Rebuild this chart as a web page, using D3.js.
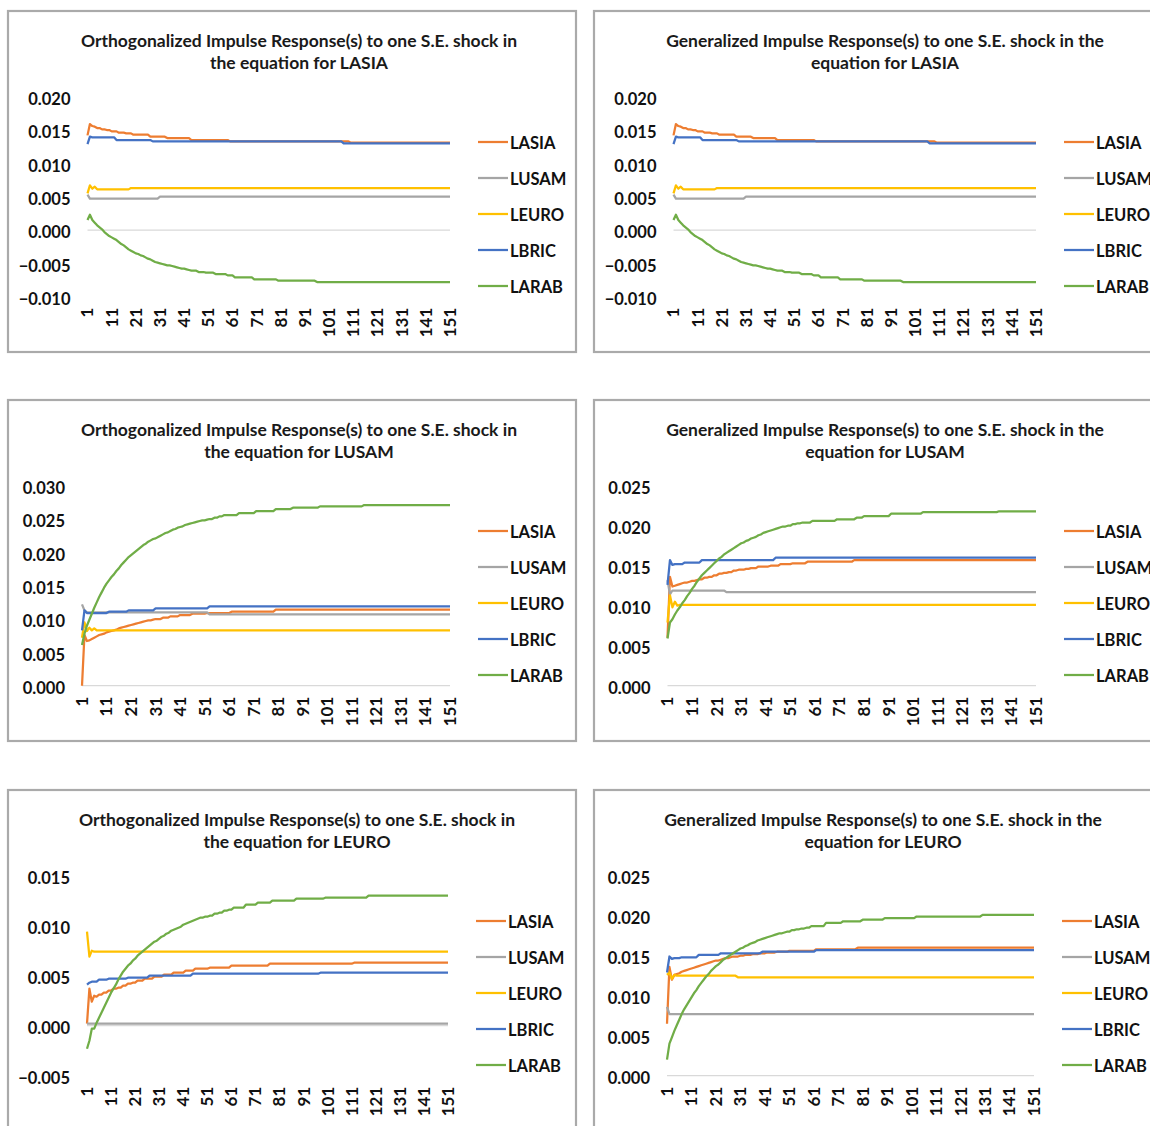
<!DOCTYPE html>
<html>
<head>
<meta charset="utf-8">
<script src="https://cdn.jsdelivr.net/npm/d3@7"></script>
<style>
  body { margin: 0; background: #fff; }
  svg { display: block; font-family: Lato, "Open Sans", sans-serif; }
</style>
</head>
<body>
<div id="chart"></div>
<script>
const periods = d3.range(1, 152);
const seriesNames = ["LASIA", "LUSAM", "LEURO", "LBRIC", "LARAB"];
const seriesColors = ["#ED7D31", "#A5A5A5", "#FFC000", "#4472C4", "#70AD47"];
const xTickLabels = [1, 11, 21, 31, 41, 51, 61, 71, 81, 91, 101, 111, 121, 131, 141, 151];

// y tick labels per panel
const yTicksAsia = [-0.010, -0.005, 0.000, 0.005, 0.010, 0.015, 0.020];
const yTicksUsamOrth = [0.000, 0.005, 0.010, 0.015, 0.020, 0.025, 0.030];
const yTicksUsamGen = [0.000, 0.005, 0.010, 0.015, 0.020, 0.025];
const yTicksEuroOrth = [-0.005, 0.000, 0.005, 0.010, 0.015];
const yTicksEuroGen = [0.000, 0.005, 0.010, 0.015, 0.020, 0.025];

// readings as [period, value]; a value holds until the next reading (flat steps in the picture)
// shock in LASIA (orthogonalized and generalized responses are the same)
const asia_LASIA = [[1,.0142],[2,.0159],[3,.0156],[4,.0155],[5,.0153],[7,.0151],[9,.0150],[11,.0148],[14,.0146],[17,.0145],[20,.0143],[27,.0140],[34,.0138],[44,.0135],[60,.0133],[110,.0131]];
const asia_LUSAM = [[1,.0053],[2,.0047],[31,.0050]];
const asia_LEURO = [[1,.0055],[2,.0067],[3,.0062],[4,.0065],[5,.0061],[19,.0063]];
const asia_LBRIC = [[1,.0129],[2,.0140],[3,.0139],[13,.0135],[28,.0133],[107,.0130]];
const asia_LARAB = [[1,.0015],[2,.0023],[3,.0015],[4,.0011],[5,.0007],[6,.0004],[7,.0001],[8,-.0003],[9,-.0006],[10,-.0009],
  [11,-.0011],[12,-.0013],[13,-.0015],[14,-.0018],[15,-.0021],[16,-.0023],[17,-.0026],[18,-.0029],[19,-.0031],[20,-.0033],
  [21,-.0035],[22,-.0036],[23,-.0038],[24,-.0039],[25,-.0041],[26,-.0043],[27,-.0044],[28,-.0046],[29,-.0048],[30,-.0049],
  [31,-.0050],[32,-.0051],[33,-.0052],[34,-.0053],[36,-.0054],[37,-.0055],[38,-.0056],[39,-.0057],[40,-.0058],[42,-.0059],
  [43,-.0060],[44,-.0061],[47,-.0063],[50,-.0064],[54,-.0066],[59,-.0068],[62,-.0071],[70,-.0074],[80,-.0076],[96,-.0078]];

// orthogonalized, shock in LUSAM
const usamO_LASIA = [[1,.0000],[2,.0076],[3,.0067],[4,.0068],[5,.0070],[6,.0072],[7,.0074],[8,.0076],[9,.0077],[10,.0078],
  [11,.0080],[12,.0081],[13,.0082],[14,.0083],[15,.0084],[16,.0086],[17,.0087],[18,.0088],[19,.0089],[20,.0090],
  [21,.0091],[22,.0092],[23,.0093],[24,.0094],[25,.0095],[26,.0096],[27,.0097],[28,.0098],[30,.0099],[31,.0100],
  [34,.0102],[37,.0104],[41,.0106],[46,.0108],[52,.0109],[62,.0111],[80,.0114]];
const usamO_LUSAM = [[1,.0122],[2,.0113],[3,.0110],[53,.0107]];
const usamO_LEURO = [[1,.0072],[2,.0095],[3,.0082],[4,.0087],[5,.0083],[6,.0086],[7,.0083]];
const usamO_LBRIC = [[1,.0083],[2,.0113],[3,.0109],[12,.0111],[20,.0113],[31,.0116],[53,.0119]];
const usamO_LARAB = [[1,.0061],[2,.0078],[3,.0090],[4,.0099],[5,.0108],[6,.0117],[7,.0125],[8,.0133],[9,.0140],[10,.0147],
  [11,.0153],[12,.0158],[13,.0163],[14,.0167],[15,.0172],[16,.0176],[17,.0181],[18,.0185],[19,.0189],[20,.0193],
  [21,.0196],[22,.0199],[23,.0202],[24,.0205],[25,.0208],[26,.0211],[27,.0213],[28,.0216],[29,.0218],[30,.0220],
  [31,.0221],[32,.0223],[33,.0225],[34,.0227],[35,.0229],[36,.0230],[37,.0232],[38,.0234],[39,.0235],[40,.0237],
  [41,.0238],[42,.0239],[43,.0241],[44,.0242],[45,.0243],[46,.0244],[47,.0245],[48,.0246],[49,.0247],[50,.0248],
  [52,.0249],[53,.0250],[55,.0252],[57,.0254],[59,.0256],[65,.0259],[72,.0262],[80,.0265],[87,.0267],[98,.0269],[116,.0271]];

// generalized, shock in LUSAM
const usamG_LASIA = [[1,.0060],[2,.0136],[3,.0124],[4,.0125],[5,.0126],[6,.0127],[7,.0128],[8,.0129],[10,.0130],[11,.0131],
  [13,.0132],[14,.0133],[16,.0135],[18,.0136],[20,.0138],[22,.0140],[24,.0141],[26,.0142],[28,.0144],[30,.0145],
  [33,.0146],[35,.0147],[38,.0149],[43,.0150],[47,.0152],[52,.0153],[58,.0155],[77,.0157]];
const usamG_LUSAM = [[1,.0132],[2,.0114],[3,.0119],[25,.0117]];
const usamG_LEURO = [[1,.0079],[2,.0113],[3,.0098],[4,.0105],[5,.0100],[6,.0101]];
const usamG_LBRIC = [[1,.0126],[2,.0157],[3,.0151],[4,.0152],[8,.0154],[15,.0157],[45,.0160]];
const usamG_LARAB = [[1,.0059],[2,.0079],[3,.0083],[4,.0089],[5,.0094],[6,.0098],[7,.0103],[8,.0107],[9,.0112],[10,.0116],
  [11,.0121],[12,.0125],[13,.0130],[14,.0134],[15,.0138],[16,.0141],[17,.0144],[18,.0147],[19,.0150],[20,.0153],
  [21,.0156],[22,.0159],[23,.0161],[24,.0164],[25,.0166],[26,.0168],[27,.0170],[28,.0172],[29,.0174],[30,.0176],
  [31,.0178],[32,.0179],[33,.0181],[34,.0182],[35,.0184],[36,.0185],[37,.0186],[38,.0188],[39,.0189],[40,.0191],
  [41,.0192],[42,.0193],[43,.0194],[44,.0195],[45,.0196],[46,.0197],[47,.0198],[48,.0199],[50,.0200],[52,.0202],
  [54,.0203],[56,.0204],[60,.0206],[70,.0208],[78,.0210],[81,.0212],[92,.0215],[105,.0217],[136,.0218]];

// orthogonalized, shock in LEURO
const euroO_LASIA = [[1,.0002],[2,.0037],[3,.0024],[4,.0030],[5,.0029],[6,.0031],[8,.0033],[10,.0035],[12,.0037],[14,.0038],
  [16,.0040],[18,.0042],[20,.0043],[22,.0045],[25,.0047],[29,.0049],[33,.0051],[37,.0053],[42,.0055],[46,.0057],
  [52,.0058],[61,.0060],[77,.0062],[112,.0063]];
const euroO_LUSAM = [[1,.0002]];
const euroO_LEURO = [[1,.0094],[2,.0069],[3,.0075],[4,.0074]];
const euroO_LBRIC = [[1,.0041],[2,.0043],[3,.0044],[6,.0046],[10,.0047],[18,.0048],[27,.0050],[45,.0052],[98,.0053]];
const euroO_LARAB = [[1,-.0023],[2,-.0015],[3,-.0003],[5,.0003],[6,.0008],[7,.0013],[8,.0018],[9,.0023],[10,.0028],
  [11,.0033],[12,.0037],[13,.0041],[14,.0046],[15,.0050],[16,.0054],[17,.0057],[18,.0060],[19,.0062],[20,.0065],
  [21,.0067],[22,.0070],[23,.0072],[24,.0074],[25,.0076],[26,.0078],[27,.0080],[28,.0082],[29,.0084],[30,.0085],
  [31,.0087],[32,.0089],[33,.0090],[34,.0092],[35,.0093],[36,.0095],[37,.0096],[38,.0097],[39,.0098],[40,.0099],
  [41,.0101],[42,.0102],[43,.0103],[44,.0104],[45,.0105],[46,.0106],[47,.0107],[48,.0108],[50,.0109],[52,.0110],
  [54,.0112],[56,.0113],[58,.0115],[60,.0116],[62,.0118],[67,.0121],[72,.0123],[78,.0125],[88,.0127],[100,.0128],[118,.0130]];

// generalized, shock in LEURO
const euroG_LASIA = [[1,.0065],[2,.0136],[3,.0120],[4,.0126],[5,.0127],[6,.0128],[7,.0130],[8,.0131],[9,.0132],[10,.0133],
  [11,.0134],[12,.0135],[13,.0136],[14,.0137],[15,.0138],[16,.0139],[17,.0140],[18,.0141],[19,.0142],[20,.0143],
  [21,.0144],[23,.0145],[24,.0146],[25,.0147],[27,.0148],[28,.0149],[31,.0150],[33,.0151],[36,.0152],[39,.0153],
  [42,.0154],[46,.0155],[51,.0156],[62,.0158],[79,.0160]];
const euroG_LUSAM = [[1,.0086],[2,.0077]];
const euroG_LEURO = [[1,.0126],[2,.0129],[3,.0121],[4,.0126],[5,.0125],[30,.0123]];
const euroG_LBRIC = [[1,.0129],[2,.0149],[3,.0146],[4,.0147],[7,.0148],[14,.0151],[23,.0153],[40,.0155],[62,.0157]];
const euroG_LARAB = [[1,.0020],[2,.0040],[3,.0048],[4,.0056],[5,.0063],[6,.0070],[7,.0077],[8,.0083],[9,.0088],[10,.0093],
  [11,.0098],[12,.0103],[13,.0107],[14,.0112],[15,.0116],[16,.0120],[17,.0124],[18,.0127],[19,.0131],[20,.0134],
  [21,.0137],[22,.0139],[23,.0142],[24,.0145],[25,.0147],[26,.0149],[27,.0151],[28,.0153],[29,.0155],[30,.0157],
  [31,.0159],[32,.0160],[33,.0162],[34,.0163],[35,.0165],[36,.0166],[37,.0167],[38,.0169],[39,.0170],[40,.0171],
  [41,.0172],[42,.0173],[43,.0174],[44,.0175],[45,.0176],[46,.0177],[47,.0178],[49,.0179],[50,.0180],[52,.0182],
  [54,.0183],[56,.0184],[58,.0185],[60,.0187],[66,.0191],[73,.0193],[81,.0195],[90,.0197],[103,.0199],[130,.0201]];

const panels = [
  { title: ["Orthogonalized Impulse Response(s) to one S.E. shock in", "the equation for LASIA"],
    ticks: yTicksAsia, series: [asia_LASIA, asia_LUSAM, asia_LEURO, asia_LBRIC, asia_LARAB],
    frameX: 8, top: 11, plotX: [87.5, 450], titleX: 299 },
  { title: ["Generalized Impulse Response(s) to one S.E. shock in the", "equation for LASIA"],
    ticks: yTicksAsia, series: [asia_LASIA, asia_LUSAM, asia_LEURO, asia_LBRIC, asia_LARAB],
    frameX: 594, top: 11, plotX: [673.5, 1036], titleX: 885 },
  { title: ["Orthogonalized Impulse Response(s) to one S.E. shock in", "the equation for LUSAM"],
    ticks: yTicksUsamOrth, series: [usamO_LASIA, usamO_LUSAM, usamO_LEURO, usamO_LBRIC, usamO_LARAB],
    frameX: 8, top: 400, plotX: [82, 450], titleX: 299 },
  { title: ["Generalized Impulse Response(s) to one S.E. shock in the", "equation for LUSAM"],
    ticks: yTicksUsamGen, series: [usamG_LASIA, usamG_LUSAM, usamG_LEURO, usamG_LBRIC, usamG_LARAB],
    frameX: 594, top: 400, plotX: [667.5, 1036], titleX: 885 },
  { title: ["Orthogonalized Impulse Response(s) to one S.E. shock in", "the equation for LEURO"],
    ticks: yTicksEuroOrth, series: [euroO_LASIA, euroO_LUSAM, euroO_LEURO, euroO_LBRIC, euroO_LARAB],
    frameX: 8, top: 790, plotX: [87, 448], titleX: 297 },
  { title: ["Generalized Impulse Response(s) to one S.E. shock in the", "equation for LEURO"],
    ticks: yTicksEuroGen, series: [euroG_LASIA, euroG_LUSAM, euroG_LEURO, euroG_LBRIC, euroG_LARAB],
    frameX: 594, top: 790, plotX: [667, 1034], titleX: 883 }
];

function expand(readings) {
  return periods.map(p => {
    let v = readings[0][1];
    for (const [k, val] of readings) if (k <= p) v = val;
    return { p: p, v: v };
  });
}

const svg = d3.select("#chart").append("svg")
    .attr("width", 1150)
    .attr("height", 1126);

const color = d3.scaleOrdinal().domain(seriesNames).range(seriesColors);

panels.forEach(panel => {
    const g = svg.append("g");
    const plotTop = panel.top + 85.7;
    const plotBottom = plotTop + 200;

    //chart frame
    g.append("rect")
        .attr("x", panel.frameX)
        .attr("y", panel.top)
        .attr("width", 568)
        .attr("height", 341)
        .attr("fill", "none")
        .attr("stroke", "#aaaaaa")
        .attr("stroke-width", 2.2);

    //title, two lines
    g.append("text")
        .attr("text-anchor", "middle")
        .style("font-size", "17.5px")
        .style("font-weight", "bold")
        .attr("fill", "#1a1a1a")
        .selectAll("tspan")
        .data(panel.title)
        .join("tspan")
          .attr("x", panel.titleX)
          .attr("y", (d, i) => panel.top + 30 + i * 22)
          .attr("dy", "0.35em")
          .text(d => d);

    const x = d3.scaleLinear()
        .domain([1, 151])
        .range(panel.plotX);

    const y = d3.scaleLinear()
        .domain(d3.extent(panel.ticks))
        .range([plotBottom, plotTop]);

    //y tick labels only, no axis line
    const yAxis = g.append("g")
        .attr("transform", `translate(${panel.plotX[0] - 10},0)`)
        .call(d3.axisLeft(y).tickValues(panel.ticks).tickFormat(d3.format(".3f")).tickSize(0).tickPadding(7));
    yAxis.select(".domain").remove();
    yAxis.selectAll("text")
        .attr("dy", "0.47em")
        .style("font-size", "16.5px")
        .style("font-weight", "bold")
        .style("font-family", "Lato, 'Open Sans', sans-serif")
        .attr("fill", "#111");

    //horizontal axis line at zero
    g.append("line")
        .attr("x1", x(1))
        .attr("x2", x(151))
        .attr("y1", y(0))
        .attr("y2", y(0))
        .attr("stroke", "#d9d9d9")
        .attr("stroke-width", 1.3);

    //category labels, rotated, at the bottom of the plot
    g.append("g")
        .selectAll("text")
        .data(xTickLabels)
        .join("text")
          .attr("transform", d => `translate(${x(d)},${plotBottom + 11}) rotate(-90)`)
          .attr("dy", "0.35em")
          .attr("text-anchor", "end")
          .style("font-size", "17px")
          .style("font-weight", "bold")
          .attr("fill", "#111")
          .text(d => d);

    const line = d3.line()
        .x(d => x(d.p))
        .y(d => y(d.v));

    panel.series.forEach((readings, i) => {
        g.append("path")
            .datum(expand(readings))
            .attr("fill", "none")
            .attr("stroke", color(seriesNames[i]))
            .attr("stroke-width", 2.25)
            .attr("stroke-linejoin", "round")
            .attr("d", line);
    });

    //legend on the right
    const legend = g.append("g")
        .selectAll("g")
        .data(seriesNames)
        .join("g")
          .attr("transform", (d, i) => `translate(${panel.plotX[1] + 28}, ${panel.top + 131 + i * 36})`);

    legend.append("line")
        .attr("x1", 0)
        .attr("x2", 30)
        .attr("stroke", d => color(d))
        .attr("stroke-width", 2.25);

    legend.append("text")
        .attr("x", 32)
        .attr("dy", "0.42em")
        .style("font-size", "16.5px")
        .style("font-weight", "bold")
        .attr("fill", "#111")
        .text(d => d);
});
</script>
</body>
</html>
